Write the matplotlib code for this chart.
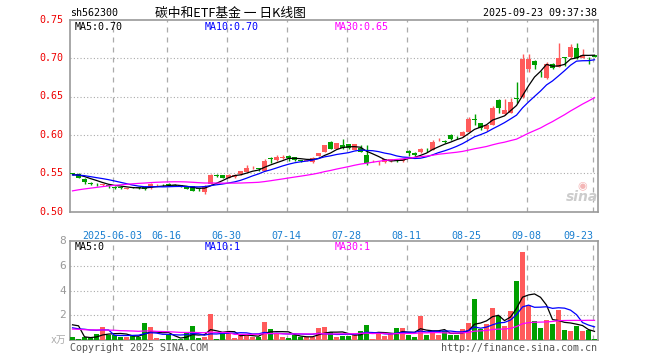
import numpy as np
import pandas as pd
import matplotlib
matplotlib.use('Agg')
import matplotlib.pyplot as plt

plt.rcParams['font.family'] = ['DejaVu Sans Mono', 'Noto Sans CJK SC']

# daily K data, 2025-05-22 .. 2025-09-23
opens = [.5495, .5495, .5425, .538, .5362, .5345, .5345, .532, .532, .5295,
         .5315, .532, .532, .5305, .5345, .535, .536, .535, .5345, .533,
         .533, .5305, .5255, .536, .5475, .5475, .5445, .545, .5485, .552,
         .5565, .556, .553, .5695, .5675, .570, .573, .5712, .5665, .5665,
         .5645, .573, .578, .5905, .5818, .5868, .5877, .5803, .5825, .5738,
         .5655, .5645, .5646, .5655, .5665, .5655, .5794, .5768, .578, .5815,
         .5803, .5945, .5915, .6003, .5975, .598, .6042, .621, .6155, .6075,
         .613, .6455, .627, .629, .6475, .6488, .6854, .6966, .681, .674,
         .692, .689, .7015, .701, .7127, .700, .7005, .7035]
highs = [.551, .5505, .5435, .5385, .537, .5365, .5355, .533, .533, .531,
         .532, .5325, .5335, .537, .5365, .5355, .537, .5355, .535, .5335,
         .534, .5315, .5345, .5485, .549, .548, .5485, .549, .5535, .5605,
         .5595, .5575, .569, .571, .574, .574, .5735, .5715, .5675, .568,
         .5715, .577, .5875, .5925, .5895, .5946, .588, .5885, .5868, .5868,
         .5675, .566, .568, .568, .5675, .5685, .580, .5772, .5825, .583,
         .5935, .5965, .5935, .6015, .599, .6045, .623, .627, .616, .613,
         .637, .647, .6465, .6475, .669, .7053, .705, .697, .6835, .6955,
         .694, .7195, .702, .7185, .7195, .712, .7015, .704]
lows = [.548, .5435, .536, .5345, .5335, .5335, .5315, .5295, .530, .529,
        .5305, .5295, .5285, .530, .533, .534, .5335, .5335, .532, .529,
        .5265, .527, .5235, .5355, .545, .5435, .544, .544, .548, .5515,
        .555, .5535, .5525, .5635, .5665, .569, .566, .5665, .5645, .566,
        .5635, .572, .5775, .581, .5815, .582, .5815, .580, .578, .5608,
        .5645, .561, .564, .565, .5645, .565, .5725, .5725, .5765, .578,
        .580, .5925, .5895, .594, .5945, .5975, .604, .6125, .6065, .605,
        .6125, .628, .6265, .628, .642, .648, .682, .6854, .675, .673,
        .6855, .6885, .6895, .7005, .699, .6995, .692, .701]
closes = [.549, .5445, .5385, .5355, .5358, .5358, .533, .531, .5315, .5305,
          .531, .531, .530, .536, .535, .5345, .5345, .534, .5325, .530,
          .527, .5295, .534, .548, .5465, .5445, .548, .548, .553, .5575,
          .557, .5555, .566, .5685, .5715, .5705, .5705, .5668, .566, .567,
          .5695, .5768, .587, .5818, .589, .5825, .5825, .5877, .5781, .5629,
          .566, .565, .568, .568, .566, .568, .5768, .5742, .5816, .581,
          .591, .5947, .591, .595, .597, .604, .621, .619, .6094, .6125,
          .6345, .6345, .633, .643, .6465, .6984, .6984, .6905, .680, .692,
          .6865, .700, .7005, .7145, .6997, .7035, .6995, .702]
volumes = [.27, .1, .27, .2, .5, 1.07, .45, .45, .27, .27,
           .35, .27, 1.4, 1.07, .2, .1, .4, .1, .1, .56,
           1.15, .2, .27, 2.1, .1, .56, .5, .2, .45, .45,
           .27, .27, 1.47, .9, .56, .27, .2, .4, .27, .27,
           .27, 1.0, 1.07, .67, .27, .35, .35, .45, .75, 1.23,
           .1, .67, .35, .5, 1.0, 1.0, .43, .27, 1.95, .43,
           .75, .43, .75, .43, .43, .9, 1.4, 3.3, .9, 1.3,
           2.6, 1.95, 1.15, 2.35, 4.77, 7.1, 2.85, 1.55, 1.0, 1.63,
           1.3, 2.45, .83, .75, 1.15, .75, .83, .1]

# earlier sessions, only needed for the moving averages at the left edge
prior_closes = [.503, .505, .505, .506, .505, .507, .509, .509, .511, .512,
                .514, .517, .519, .522, .525, .528, .530, .533, .536, .540,
                .545, .547, .548, .549, .548, .547, .548, .549, .548]
prior_volumes = [.6, 1.2, .8, .5, 1.1, .9, .7, 1.3, .6, .8,
                 1.0, .7, .9, 1.2, .6, .8, .9, 1.0, .7, .7,
                 .9, .6, .8, .7, .8, .5, 4.7, .5, .25]

tick_idx = [7, 16, 26, 36, 46, 56, 66, 76, 87]
tick_labels = ['2025-06-03', '06-16', '06-30', '07-14', '07-28',
               '08-11', '08-25', '09-08', '09-23']

RED = '#ff5b5b'
GREEN = '#009f00'
GRID = '#aaaaaa'
BORDER = '#999999'

o = np.array(opens)
h = np.array(highs)
l = np.array(lows)
c = np.array(closes)
v = np.array(volumes)
x = np.arange(len(c))
up = c >= o
cols = np.where(up, RED, GREEN)

n = len(c)
all_c = pd.Series(prior_closes + closes)
all_v = pd.Series(prior_volumes + volumes)


def ma(s, k):
    return s.rolling(k).mean().values[-n:]


W, H = 660, 360
fig = plt.figure(figsize=(W / 100, H / 100), dpi=100)


def fx(px):
    return px / W


def fy(py):
    return 1 - py / H


ax = fig.add_axes([fx(70), fy(211.7), fx(598) - fx(70), fy(19.7) - fy(211.7)])
axv = fig.add_axes([fx(70), fy(340.3), fx(598) - fx(70), fy(240.7) - fy(340.3)])

xlim = (-0.42, 87.58)
grid_x = [t - 0.3 for t in tick_idx]

# ---- price panel
ax.vlines(x, l, h, colors=cols, linewidth=1.0, zorder=3)
body_h = np.maximum(np.abs(c - o), 0.0008)
ax.bar(x, body_h, bottom=np.minimum(o, c), width=0.83, color=cols,
       linewidth=0, zorder=4)
ax.plot(x, ma(all_c, 5), color='black', linewidth=0.9, zorder=5)
ax.plot(x, ma(all_c, 10), color='#0000ff', linewidth=0.9, zorder=5)
ax.plot(x, ma(all_c, 30), color='#ff00ff', linewidth=0.9, zorder=5)

ax.set_xlim(*xlim)
ax.set_ylim(0.50, 0.75)
for yv in [0.55, 0.60, 0.65, 0.70]:
    ax.axhline(yv, color=GRID, linestyle=(0, (1, 2)), linewidth=0.8, zorder=1)
for gx in grid_x:
    ax.axvline(gx, color=GRID, linestyle=(0, (4, 4)), linewidth=0.9, zorder=1)

# ---- volume panel
axv.bar(x, v, width=0.83, color=cols, linewidth=0, zorder=3)
axv.plot(x, ma(all_v, 5), color='black', linewidth=0.9, zorder=5)
axv.plot(x, ma(all_v, 10), color='#0000ff', linewidth=0.9, zorder=5)
axv.plot(x, ma(all_v, 30), color='#ff00ff', linewidth=0.9, zorder=5)
axv.set_xlim(*xlim)
axv.set_ylim(0, 8)
for yv in [2, 4, 6]:
    axv.axhline(yv, color=GRID, linestyle=(0, (1, 2)), linewidth=0.8, zorder=1)
for gx in grid_x:
    axv.axvline(gx, color=GRID, linestyle=(0, (4, 4)), linewidth=0.9, zorder=1)

for a in (ax, axv):
    a.set_xticks([])
    a.set_yticks([])
    for sp in a.spines.values():
        sp.set_color(BORDER)
        sp.set_linewidth(1.2)

# ---- axis labels
for yv in [0.50, 0.55, 0.60, 0.65, 0.70, 0.75]:
    ax.text(-0.012, yv, f'{yv:.2f}', transform=ax.get_yaxis_transform(),
            ha='right', va='center', color='#ee0000', fontsize=7.2)
for yv in [2, 4, 6, 8]:
    axv.text(-0.008, yv, str(yv), transform=axv.get_yaxis_transform(),
             ha='right', va='center', color='#999999', fontsize=8)
fig.text(fx(66), fy(340), 'x万', ha='right', va='center', color='#aaaaaa',
         fontsize=7)

for gx, lab in zip(grid_x, tick_labels):
    ha = 'right' if lab == tick_labels[-1] else 'center'
    xx = gx + 0.15 if ha == 'right' else gx
    ax.text(xx, -0.125, lab, transform=ax.get_xaxis_transform(), ha=ha,
            va='center', color='#1a7fd0', fontsize=7.2)

# ---- header texts
fig.text(fx(70), fy(13), 'sh562300', ha='left', va='center', fontsize=7.2)
fig.text(fx(230), fy(13), '碳中和ETF基金 一 日K线图', ha='center', va='center',
         fontsize=9.2, family=['Noto Sans CJK SC', 'DejaVu Sans'])
fig.text(fx(597), fy(13), '2025-09-23 09:37:38', ha='right', va='center',
         fontsize=7.2)

fig.text(fx(75), fy(27), 'MA5:0.70', ha='left', va='center', fontsize=7.2,
         color='black')
fig.text(fx(205), fy(27), 'MA10:0.70', ha='left', va='center', fontsize=7.2,
         color='#0000ff')
fig.text(fx(335), fy(27), 'MA30:0.65', ha='left', va='center', fontsize=7.2,
         color='#ff00ff')
fig.text(fx(75), fy(247), 'MA5:0', ha='left', va='center', fontsize=7.2,
         color='black')
fig.text(fx(205), fy(247), 'MA10:1', ha='left', va='center', fontsize=7.2,
         color='#0000ff')
fig.text(fx(335), fy(247), 'MA30:1', ha='left', va='center', fontsize=7.2,
         color='#ff00ff')

fig.text(fx(70), fy(348), 'Copyright 2025 SINA.COM', ha='left', va='center',
         fontsize=7.2, color='#555555')
fig.text(fx(597), fy(348), 'http://finance.sina.com.cn', ha='right',
         va='center', fontsize=7.2, color='#555555')

# sina watermark
fig.text(fx(582), fy(197), 'sina', ha='center', va='center', fontsize=10,
         fontweight='bold', style='italic', color='#cccccc',
         family='DejaVu Sans')
fig.text(fx(582), fy(186), '◉', ha='center', va='center', fontsize=8,
         color='#f4b6b6', family='DejaVu Sans')

fig.savefig('out.png', dpi=100)
